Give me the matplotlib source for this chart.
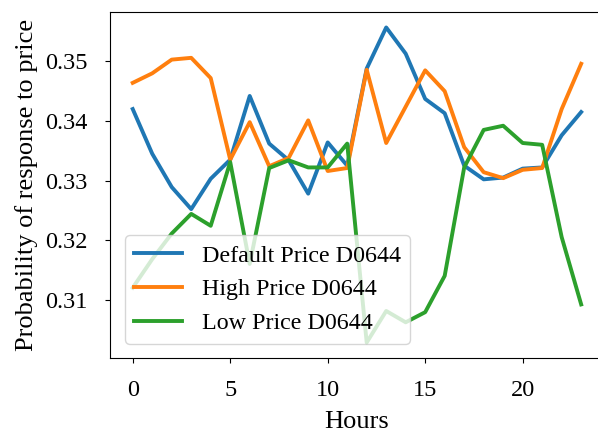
import matplotlib
matplotlib.use("Agg")
import matplotlib.pyplot as plt

hours = list(range(24))
default_price = [0.3420, 0.3345, 0.3289, 0.3252, 0.3303, 0.3335, 0.3442, 0.3362,
                 0.3334, 0.3278, 0.3364, 0.3325, 0.3488, 0.3557, 0.3513, 0.3437,
                 0.3413, 0.3325, 0.3302, 0.3305, 0.3320, 0.3322, 0.3376, 0.3415]
high_price = [0.3464, 0.3480, 0.3503, 0.3506, 0.3472, 0.3335, 0.3398, 0.3324,
              0.3338, 0.3401, 0.3316, 0.3321, 0.3486, 0.3363, 0.3424, 0.3485,
              0.3450, 0.3356, 0.3314, 0.3304, 0.3318, 0.3321, 0.3420, 0.3496]
low_price = [0.3120, 0.3168, 0.3211, 0.3244, 0.3224, 0.3331, 0.3160, 0.3321,
             0.3334, 0.3322, 0.3322, 0.3362, 0.3028, 0.3081, 0.3062, 0.3079,
             0.3140, 0.3322, 0.3385, 0.3392, 0.3363, 0.3360, 0.3205, 0.3092]
labels = ["Default Price D0644", "High Price D0644", "Low Price D0644"]

plt.rcParams['font.family'] = ['Liberation Serif', 'DejaVu Serif']

fig = plt.figure(figsize=(5.98, 4.32), dpi=100)
ax = fig.add_axes([110.3/598, 1 - 358.3/432, 493.3/598, 346.6/432])
for series, lab in zip([default_price, high_price, low_price], labels):
    ax.plot(hours, series, lw=2.8, label=lab)
ax.set_xlabel("Hours", fontsize=19, labelpad=7)
ax.set_ylabel("Probability of response to price", fontsize=19, labelpad=5)
ax.set_xticks([0, 5, 10, 15, 20])
ax.set_yticks([0.31, 0.32, 0.33, 0.34, 0.35])
ax.tick_params(labelsize=17.5)
ax.tick_params(axis='x', pad=12)
ax.tick_params(axis='y', pad=13)
ax.legend(loc="lower left", fontsize=17.3, borderaxespad=0.6)
fig.savefig("out.png", dpi=100)
